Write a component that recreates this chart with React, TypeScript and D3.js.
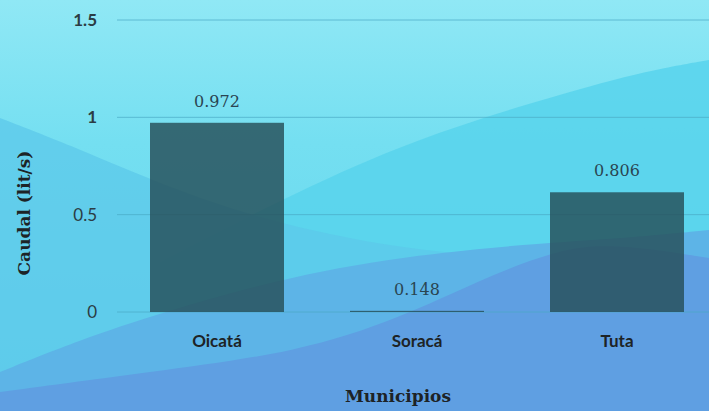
import React from "react";
import * as d3 from "d3";

const categories = ["Oicatá", "Soracá", "Tuta"];
const barValues = [0.972, 0.006, 0.615];
const valueLabels = ["0.972", "0.148", "0.806"];
const yTicks = [0, 0.5, 1, 1.5];
const yTickLabels = ["0", "0.5", "1", "1.5"];

const W = 709;
const H = 411;

type P = [number, number];
const waveLeft: P[] = [[0, 118], [70, 145], [150, 180], [260, 220], [400, 250], [560, 262], [709, 268]];
const waveRight: P[] = [[160, 262], [300, 190], [413, 140], [540, 100], [640, 72], [709, 60]];
const waveMid: P[] = [[0, 372], [80, 340], [160, 313], [290, 276], [420, 254], [543, 243], [630, 238], [709, 230]];
const waveLow: P[] = [[0, 392], [150, 372], [300, 352], [400, 318], [480, 280], [560, 248], [620, 244], [709, 258]];

export default function App() {
  const x = d3.scaleBand<string>().domain(categories).range([117, 717]).paddingInner(0.33).paddingOuter(0.165);
  const y = d3.scaleLinear().domain([0, 1.5]).range([312, 20]);

  const line = d3.line<P>().curve(d3.curveBasis);
  const area = (pts: P[]) => {
    const p = line(pts) as string;
    return `${p}L${W},${H}L${pts[0][0]},${H}Z`;
  };

  return (
    <svg width={W} height={H} style={{ position: "fixed", left: 0, top: 0, display: "block" }}>
      <defs>
        <linearGradient id="bg" x1="0" y1="0" x2="0" y2="1">
          <stop offset="0" stopColor="#90e8f5" />
          <stop offset="0.35" stopColor="#74dff1" />
          <stop offset="1" stopColor="#62d2ec" />
        </linearGradient>
      </defs>
      <rect x={0} y={0} width={W} height={H} fill="url(#bg)" />
      <path d={area(waveRight)} fill="#58d3ec" opacity={0.85} />
      <path d={area(waveLeft)} fill="#5cc8ea" opacity={0.75} />
      <path d={area(waveMid)} fill="#5db4e7" />
      <path d={area(waveLow)} fill="#5f9fe2" />

      {yTicks.map((t, i) => (
        <g key={t}>
          <line x1={117} x2={W} y1={y(t)} y2={y(t)} stroke="#4aa9c4" strokeOpacity={0.7} strokeWidth={1} />
          <text x={97} y={y(t)} dy="0.35em" textAnchor="end" fontFamily="Lato, 'Open Sans', sans-serif" fontSize={17} fontWeight={t >= 1 ? 700 : 400} fill="#2b3c44">
            {yTickLabels[i]}
          </text>
        </g>
      ))}

      {categories.map((c, i) => (
        <g key={c}>
          <rect
            x={x(c)}
            y={y(barValues[i])}
            width={x.bandwidth()}
            height={y(0) - y(barValues[i])}
            fill="#264e58"
            fillOpacity={0.82}
          />
          <text x={(x(c) as number) + x.bandwidth() / 2} y={y(barValues[i]) - 16} textAnchor="middle" fontFamily="'DejaVu Serif', serif" fontSize={16} fill="#2a4552">
            {valueLabels[i]}
          </text>
          <text x={(x(c) as number) + x.bandwidth() / 2} y={347} textAnchor="middle" fontFamily="Lato, 'Open Sans', sans-serif" fontSize={17} fontWeight={700} fill="#1d2326">
            {c}
          </text>
        </g>
      ))}

      <text x={398} y={402} textAnchor="middle" fontFamily="'DejaVu Serif', serif" fontSize={17} fontWeight={700} fill="#1d2326">
        Municipios
      </text>
      <text transform={`translate(30,213) rotate(-90)`} textAnchor="middle" fontFamily="'DejaVu Serif', serif" fontSize={17} fontWeight={700} fill="#1d2326">
        Caudal (lit/s)
      </text>
    </svg>
  );
}
